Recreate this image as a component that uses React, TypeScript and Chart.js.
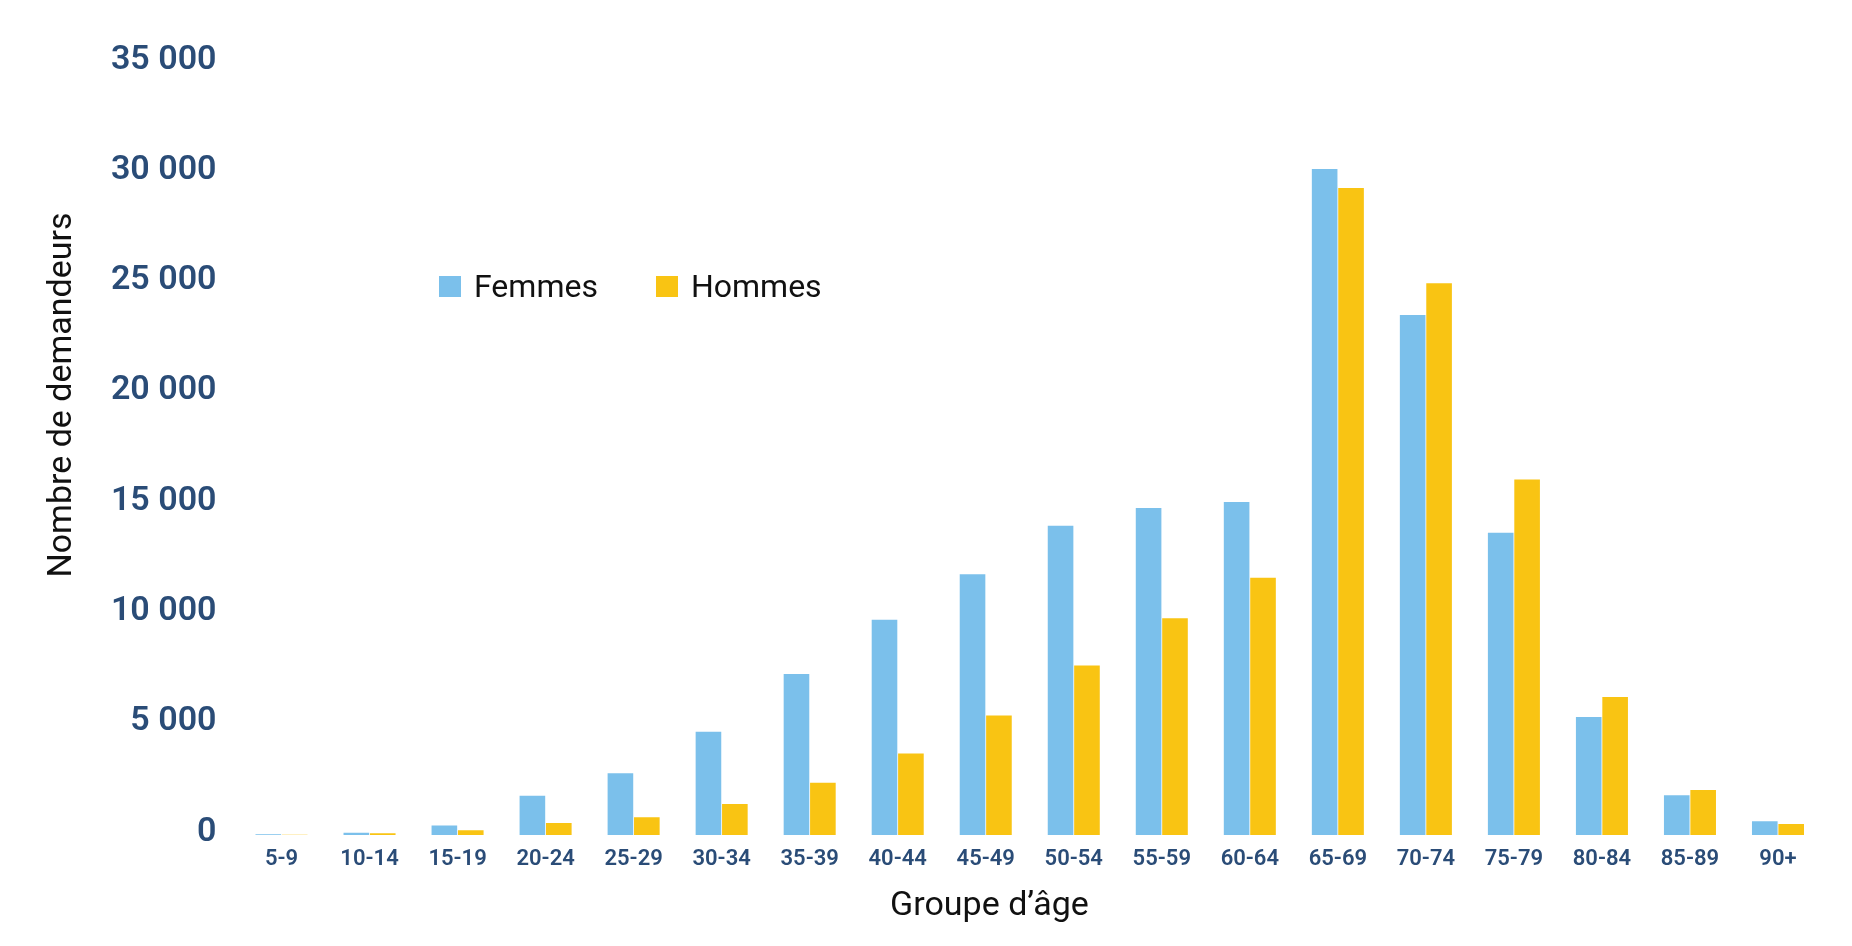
import React, { useEffect, useRef } from "react";
import { Chart, registerables } from "chart.js";

Chart.register(...registerables);

const categories = ["5-9", "10-14", "15-19", "20-24", "25-29", "30-34", "35-39", "40-44", "45-49", "50-54", "55-59", "60-64", "65-69", "70-74", "75-79", "80-84", "85-89", "90+"];
const femmes = [30, 100, 430, 1780, 2800, 4680, 7300, 9760, 11820, 14020, 14830, 15100, 30190, 23570, 13700, 5350, 1800, 620];
const hommes = [10, 80, 215, 540, 800, 1400, 2370, 3700, 5420, 7680, 9830, 11660, 29330, 25020, 16120, 6260, 2040, 500];
const yTicks = [0, 5000, 10000, 15000, 20000, 25000, 30000, 35000];

const F_COLOR = "#7bc0eb";
const H_COLOR = "#f9c413";
const TICK_COLOR = "#2a4c77";
const FONT = "Roboto";

const titlesPlugin = {
  id: "axisTitles",
  afterDraw(chart: any) {
    const { ctx, chartArea } = chart;
    ctx.save();
    ctx.fillStyle = "#111111";
    ctx.font = `400 34px ${FONT}`;
    ctx.textAlign = "center";
    ctx.textBaseline = "middle";
    ctx.fillText("Groupe d\u2019âge", chartArea.left + 752, chartArea.bottom + 71);
    ctx.translate(chartArea.left - 175, chartArea.top + 332);
    ctx.rotate(-Math.PI / 2);
    ctx.fillText("Nombre de demandeurs", 0, 0);
    ctx.restore();
  },
};

export default function App() {
  const ref = useRef<HTMLCanvasElement>(null);
  useEffect(() => {
    if (!ref.current) return;
    const chart = new Chart(ref.current, {
      type: "bar",
      data: {
        labels: categories,
        datasets: [
          { label: "Femmes", data: femmes, backgroundColor: F_COLOR, borderWidth: 0, barPercentage: 0.97, categoryPercentage: 0.6 },
          { label: "Hommes", data: hommes, backgroundColor: H_COLOR, borderWidth: 0, barPercentage: 0.97, categoryPercentage: 0.6 },
        ],
      },
      options: {
        animation: false,
        responsive: false,
        maintainAspectRatio: false,
        layout: { padding: { top: 55, right: 22, left: 0, bottom: 0 } },
        plugins: { legend: { display: false }, tooltip: { enabled: false } },
        scales: {
          x: {
            grid: { display: false },
            border: { display: false },
            ticks: { color: TICK_COLOR, font: { family: FONT, size: 22, weight: 600 }, padding: 3, maxRotation: 0, autoSkip: false },
            afterFit: (s: any) => { s.height = 103; },
          },
          y: {
            min: 0,
            max: 35000,
            grid: { display: false },
            border: { display: false },
            afterBuildTicks: (s: any) => { s.ticks = yTicks.map((v) => ({ value: v })); },
            ticks: {
              color: TICK_COLOR,
              font: { family: FONT, size: 34, weight: 600 },
              padding: 13,
              labelOffset: -3,
              callback: (v: any) => Number(v).toLocaleString("fr-FR").replace(/\u202f|\u00a0/g, " "),
            },
            afterFit: (s: any) => { s.width = 229.5; },
          },
        },
      },
      plugins: [titlesPlugin],
    });
    return () => chart.destroy();
  }, []);

  const legendItem = (color: string, text: string, ml: number) => (
    <span style={{ display: "inline-flex", alignItems: "center", marginLeft: ml }}>
      <span style={{ display: "inline-block", width: 22, height: 21, background: color, marginRight: 13 }} />
      <span>{text}</span>
    </span>
  );

  return (
    <div style={{ position: "relative", width: 1836, height: 930 }}>
      <canvas ref={ref} width={1836} height={930} style={{ width: 1836, height: 930, display: "block" }} />
      <div style={{ position: "absolute", left: 431, top: 258, fontFamily: FONT, fontSize: 32, color: "#111", lineHeight: "40px", whiteSpace: "nowrap", display: "flex" }}>
        {legendItem(F_COLOR, "Femmes", 0)}
        {legendItem(H_COLOR, "Hommes", 58)}
      </div>
    </div>
  );
}
